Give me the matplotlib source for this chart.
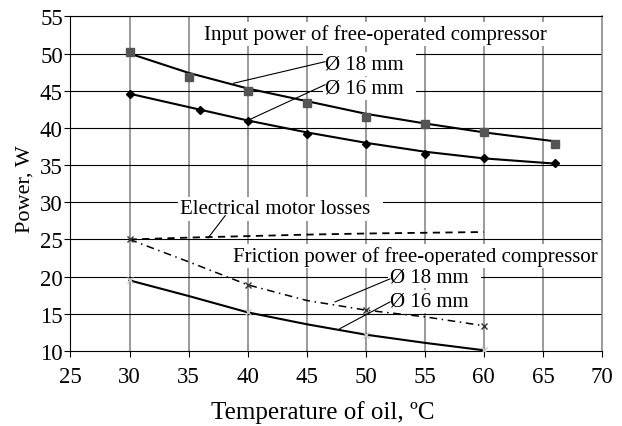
import matplotlib
matplotlib.use("Agg")
import matplotlib.pyplot as plt

plt.rcParams["font.family"] = "serif"
plt.rcParams["font.serif"] = ["Liberation Serif", "DejaVu Serif"]

# ---- Data ------------------------------------------------------------------
# input power, measured points
t_sq   = [30, 35, 40, 45, 50, 55, 60, 66]
p_sq18 = [50.2, 46.9, 44.9, 43.4, 41.4, 40.5, 39.4, 37.9]
t_dm   = [30, 36, 40, 45, 50, 55, 60, 66]
p_dm16 = [44.5, 42.4, 40.9, 39.2, 37.9, 36.5, 35.9, 35.3]

# input power, trend curves
t_fit    = [30, 35, 40, 45, 50, 55, 60, 66]
fit_in18 = [50.0, 47.4, 45.3, 43.6, 41.9, 40.6, 39.4, 38.2]
fit_in16 = [44.6, 42.8, 41.0, 39.4, 38.0, 36.8, 35.9, 35.2]

# losses and friction power
t_loss     = [30, 35, 40, 45, 50, 55, 60]
motor_loss = [25.0, 25.25, 25.45, 25.65, 25.8, 25.9, 26.0]
fric18     = [25.0, 22.0, 18.9, 16.8, 15.5, 14.6, 13.4]
fric16     = [19.5, 17.4, 15.2, 13.6, 12.2, 11.1, 10.1]
t_fric_mk  = [30, 40, 50, 60]
fric18_mk  = [25.0, 18.9, 15.5, 13.4]
fric16_mk  = [19.5, 15.2, 12.2, 10.1]

xticks = list(range(25, 71, 5))
yticks = list(range(10, 56, 5))

SERIF = "Liberation Serif"

# ---- Figure ------------------------------------------------------------------
fig = plt.figure(figsize=(6.22, 4.27), dpi=100)
ax = fig.add_axes([0.1133, 0.1756, 0.8545, 0.7838])

ax.set_xlim(25, 70)
ax.set_ylim(10, 55)
ax.set_xticks(xticks)
ax.set_yticks(yticks)
ax.set_xticklabels([str(v) for v in xticks], fontfamily=SERIF, fontsize=16.5)
ax.set_yticklabels([str(v) for v in yticks], fontfamily=SERIF, fontsize=16.5)
ax.tick_params(direction="out", length=4, width=0.8, pad=1.5)
ax.tick_params(axis="x", pad=7)

for x in xticks[1:-1]:
    ax.axvline(x, color="#808080", lw=1.1, zorder=0)
for y in yticks[1:]:
    ax.axhline(y, color="black", lw=0.8, zorder=0)
for s in ["left", "bottom", "top"]:
    ax.spines[s].set_color("black")
    ax.spines[s].set_linewidth(0.8)
ax.spines["right"].set_color("#808080")
ax.spines["right"].set_linewidth(1.1)

# curves
ax.plot(t_fit, fit_in18, color="black", lw=1.5, zorder=3)
ax.plot(t_fit, fit_in16, color="black", lw=1.5, zorder=3)
ax.plot(t_sq, p_sq18, ls="none", marker="s", ms=6, color="#555555", zorder=4)
ax.plot(t_dm, p_dm16, ls="none", marker="D", ms=4, color="black", zorder=4)

ax.plot(t_loss, motor_loss, color="black", lw=1.3, ls=(0, (4, 3)), zorder=3)
ax.plot(t_loss, fric18, color="black", lw=1.1, ls=(0, (5, 3, 1, 3)), zorder=3)
ax.plot(t_fric_mk, fric18_mk, ls="none", marker="x", ms=4, mew=1, color="#333333", zorder=4)
ax.plot(t_loss, fric16, color="black", lw=1.5, zorder=3)
ax.plot(t_fric_mk, fric16_mk, ls="none", marker="x", ms=4, mew=1, color="#c8c8c8", zorder=4)

# ---- Annotations -------------------------------------------------------------
box = dict(facecolor="white", edgecolor="none", pad=1.5)
tkw = dict(fontsize=15, fontfamily=SERIF, ha="left", va="center", bbox=box, zorder=2)

ax.text(36.3, 52.6, "Input power of free-operated compressor", **tkw)
ax.text(46.55, 48.6, "Ø 18 mm  ", **tkw)
ax.text(46.55, 45.3, "Ø 16 mm  ", **tkw)
ax.plot([38.8, 46.55], [46.0, 48.9], color="black", lw=0.8, zorder=3)
ax.plot([40.0, 46.55], [41.0, 45.8], color="black", lw=0.8, zorder=3)

ax.text(34.3, 29.1, "Electrical motor losses  ", **tkw)
ax.plot([36.65, 38.1], [25.2, 28.2], color="black", lw=0.8, zorder=3)

ax.text(38.76, 22.8, "Friction power of free-operated compressor", **tkw)
ax.text(52.05, 20.0, "Ø 18 mm  ", **tkw)
ax.text(52.05, 16.7, "Ø 16 mm  ", **tkw)
ax.plot([47.4, 52.05], [16.6, 19.7], color="black", lw=0.8, zorder=3)
ax.plot([47.8, 52.05], [13.0, 16.6], color="black", lw=0.8, zorder=3)

fig.text(323 / 622, 1 - 413 / 427, "Temperature of oil, ºC", fontsize=18,
         fontfamily=SERIF, ha="center", va="center")
fig.text(25 / 622, 1 - 189 / 427, "Power, W", fontsize=16, fontfamily=SERIF,
         rotation=90, ha="center", va="center")

fig.savefig("out.png", dpi=100)
